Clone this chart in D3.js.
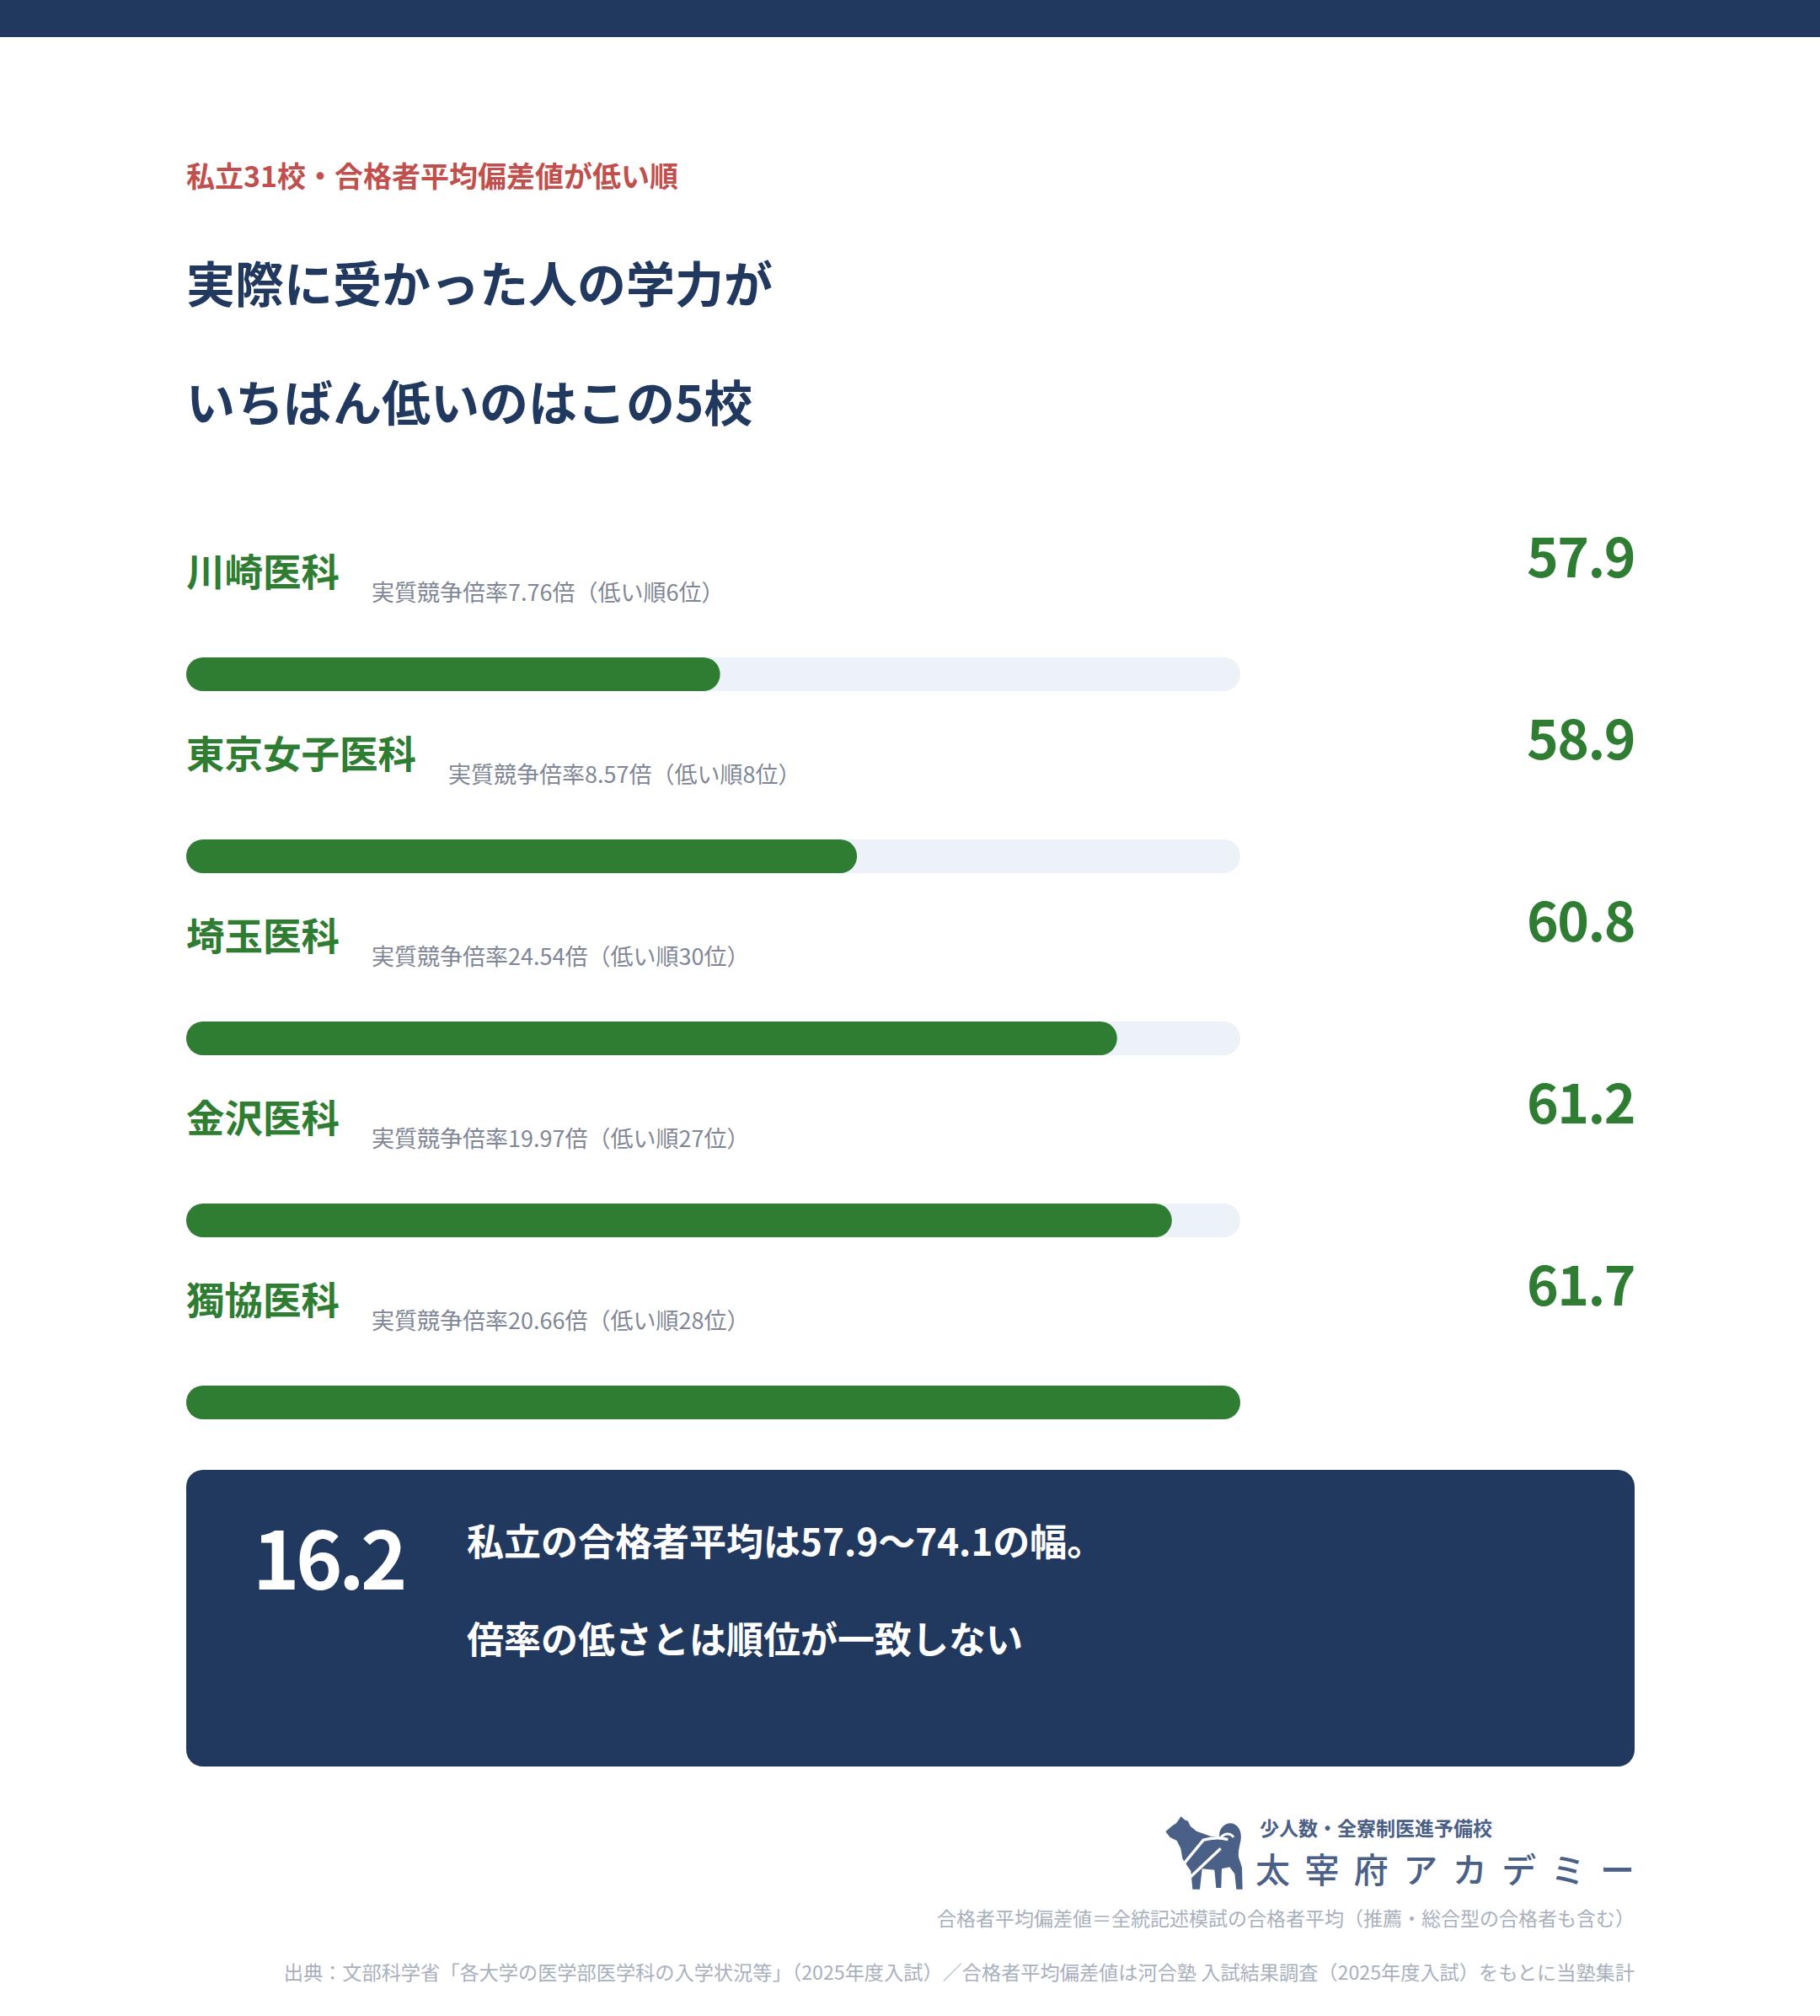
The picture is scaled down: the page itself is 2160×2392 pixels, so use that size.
<!DOCTYPE html>
<html lang="ja">
<head>
<meta charset="utf-8">
<script src="https://cdn.jsdelivr.net/npm/d3@7"></script>
<style>
  html, body { margin: 0; padding: 0; background: #fff; }
  svg { display: block; }
  text { font-family: 'Noto Sans CJK JP', 'Noto Sans', sans-serif; }
</style>
</head>
<body>
<svg id="chart"></svg>
<script>
// data
const schools = ['川崎医科', '東京女子医科', '埼玉医科', '金沢医科', '獨協医科'];
const scores = [57.9, 58.9, 60.8, 61.2, 61.7];
const ratios = [7.76, 8.57, 24.54, 19.97, 20.66];
const ranks = [6, 8, 30, 27, 28];
const privateRange = [57.9, 74.1];

const kicker = '私立31校・合格者平均偏差値が低い順';
const titleLines = ['実際に受かった人の学力が', 'いちばん低いのはこの5校'];
const noteLines = ['私立の合格者平均は57.9〜74.1の幅。', '倍率の低さとは順位が一致しない'];
const footnotes = [
  '合格者平均偏差値＝全統記述模試の合格者平均（推薦・総合型の合格者も含む）',
  '出典：文部科学省「各大学の医学部医学科の入学状況等」（2025年度入試）／合格者平均偏差値は河合塾 入試結果調査（2025年度入試）をもとに当塾集計'
];

const W = 2160, H = 2392;
const left = 221, right = 1940;
const navy = '#22395f', green = '#2e7d32';

const svg = d3.select('#chart').attr('width', W).attr('height', H);
svg.append('rect').attr('width', W).attr('height', H).attr('fill', '#fff');

// top band
svg.append('rect').attr('x', 0).attr('y', 0).attr('width', W).attr('height', 44).attr('fill', navy);

// headings
svg.append('text')
  .attr('x', left).attr('y', 222)
  .attr('font-size', 34).attr('font-weight', 700).attr('fill', '#c0504d')
  .text(kicker);

svg.selectAll('.title')
  .data(titleLines)
  .join('text')
  .attr('class', 'title')
  .attr('x', left)
  .attr('y', (d, i) => 359 + i * 141)
  .attr('font-size', 58).attr('font-weight', 700).attr('fill', navy)
  .text(d => d);

// rows
const rows = schools.map((s, i) => ({ name: s, score: scores[i], ratio: ratios[i], rank: ranks[i] }));

const y = d3.scaleBand()
  .domain(schools)
  .range([620, 620 + 216 * schools.length])
  .padding(0);

const trackEnd = 1472;
const x = d3.scaleLinear()
  .domain([54, d3.max(scores)])
  .range([0, trackEnd - left]);

const barH = 40;

const row = svg.append('g').selectAll('.row')
  .data(rows)
  .join('g')
  .attr('class', 'row')
  .attr('transform', d => `translate(0,${y(d.name)})`);

const names = row.append('text')
  .attr('x', left).attr('y', 76)
  .attr('font-size', 45.5).attr('font-weight', 700).attr('fill', green)
  .text(d => d.name);

row.append('text')
  .attr('x', function(d, i) { return left + names.nodes()[i].getComputedTextLength() + 38; })
  .attr('y', 93)
  .attr('font-size', 27).attr('fill', '#7f8796')
  .text(d => `実質競争倍率${d3.format('.2f')(d.ratio)}倍（低い順${d.rank}位）`);

row.append('text')
  .attr('x', right).attr('y', 65)
  .attr('text-anchor', 'end')
  .attr('font-size', 64).attr('font-weight', 700).attr('fill', green)
  .attr('letter-spacing', -1.5)
  .text(d => d3.format('.1f')(d.score));

row.append('rect')
  .attr('x', left).attr('y', 160)
  .attr('width', trackEnd - left).attr('height', barH)
  .attr('rx', barH / 2)
  .attr('fill', '#edf1f8');

row.append('rect')
  .attr('x', left).attr('y', 160)
  .attr('width', d => x(d.score)).attr('height', barH)
  .attr('rx', barH / 2)
  .attr('fill', green);

// summary card
const card = svg.append('g');
card.append('rect')
  .attr('x', left).attr('y', 1744)
  .attr('width', right - left).attr('height', 352)
  .attr('rx', 20)
  .attr('fill', navy);

card.append('text')
  .attr('x', 300).attr('y', 1886)
  .attr('font-size', 94).attr('font-weight', 700).attr('fill', '#fff')
  .attr('letter-spacing', -4.5)
  .text(d3.format('.1f')(privateRange[1] - privateRange[0]));

card.selectAll('.note')
  .data(noteLines)
  .join('text')
  .attr('class', 'note')
  .attr('x', 554)
  .attr('y', (d, i) => 1846 + i * 116)
  .attr('font-size', 44).attr('font-weight', 700).attr('fill', '#fff')
  .text(d => d);

// logo
const logoColor = '#4b6086';
const logo = svg.append('g');
const dog = logo.append('g').attr('transform', 'translate(1370,2140) scale(0.3333)');
dog.append('path')
  .attr('fill', logoColor)
  .attr('d', 'M40,100 L62,80 L78,70 L95,46 L108,58 L120,62 L128,80 L150,98 L200,116 L232,118 ' +
    'C228,92 248,70 272,70 C298,72 312,98 308,128 C304,150 298,168 300,190 ' +
    'L312,228 L314,305 L292,305 L286,250 L268,226 L240,232 L238,300 L220,300 L214,236 ' +
    'L170,232 L162,305 L136,305 L130,240 L112,214 L100,196 L94,160 L80,132 L56,120 Z');
dog.append('path')
  .attr('fill', 'none').attr('stroke', '#fff').attr('stroke-width', 9)
  .attr('d', 'M238,120 C250,104 272,104 282,120');
dog.append('path')
  .attr('fill', 'none').attr('stroke', '#fff').attr('stroke-width', 10)
  .attr('d', 'M100,220 L176,128 M128,262 L236,160 M172,130 C200,122 230,118 262,128');

logo.append('text')
  .attr('x', 1495).attr('y', 2178)
  .attr('font-size', 23).attr('font-weight', 700).attr('fill', logoColor)
  .text('少人数・全寮制医進予備校');

logo.append('text')
  .attr('x', 1490).attr('y', 2234)
  .attr('font-size', 41).attr('font-weight', 500).attr('fill', logoColor)
  .attr('textLength', 450).attr('lengthAdjust', 'spacing')
  .text('太宰府アカデミー');

// footnotes
svg.selectAll('.foot')
  .data(footnotes)
  .join('text')
  .attr('class', 'foot')
  .attr('x', right)
  .attr('y', (d, i) => 2285 + i * 64)
  .attr('text-anchor', 'end')
  .attr('font-size', (d, i) => i ? 23.2 : 23).attr('fill', '#a9b0be')
  .text(d => d);
</script>
</body>
</html>
